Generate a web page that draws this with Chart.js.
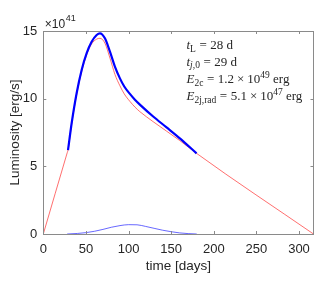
<!DOCTYPE html>
<html>
<head>
<meta charset="utf-8">
<script src="https://cdn.jsdelivr.net/npm/chart.js@4.4.0/dist/chart.umd.min.js"></script>
<style>
  html, body { margin: 0; padding: 0; background: #ffffff; }
  #lumChart { display: block; }
</style>
</head>
<body>
<canvas id="lumChart" width="334" height="284"></canvas>
<script>
// luminosity in units of 1e41 erg/s, time in days
var blueDays = [29, 33.3, 39.1, 45, 50.9, 56.7, 62.6, 66.5, 72.3, 78.2, 84, 89.9, 95, 101.6, 107.5, 113.3, 128.9, 144.6, 160.2, 179.8];
var blueLum = [6.2, 8.2, 10.4, 12.12, 13.36, 14.2, 14.7, 14.83, 14.46, 13.47, 12.37, 11.5, 10.9, 10.35, 9.92, 9.56, 8.68, 7.88, 7.07, 5.96];

var redDays = [0, 28, 29, 33.3, 39.1, 45, 50.9, 56.7, 62.6, 66.5, 72.3, 78.2, 84, 89.9, 95, 101.6, 107.5, 113.3, 128.9, 144.6, 160.2, 179.8, 317];
var redLum = [0, 5.99, 6.2, 8.15, 10.3, 12.0, 13.25, 14.05, 14.4, 14.46, 14.1, 13.0, 11.8, 10.95, 10.35, 9.8, 9.38, 9.04, 8.3, 7.6, 6.9, 5.96, 0];

var jetDays = [28, 40, 50, 60, 70, 80, 90, 100, 110, 120, 130, 140, 150, 160, 170, 180];
var jetLum = [0, 0.04, 0.1, 0.2, 0.34, 0.5, 0.62, 0.69, 0.68, 0.56, 0.42, 0.28, 0.17, 0.08, 0.03, 0];

var xTicks = [0, 50, 100, 150, 200, 250, 300];
var yTicks = [0, 5, 10, 15];

var textColor = '#262626';
var sansFont = '"Liberation Sans", Arial, sans-serif';
var serifFont = '"Liberation Serif", "Times New Roman", serif';

function toPoints(xs, ys) {
    var pts = [];
    for (var i = 0; i < xs.length; i++) {
        pts.push({ x: xs[i], y: ys[i] });
    }
    return pts;
}

// draw a run of text pieces: [text, style] with style i / r / sub / subi / sup / gap
function drawParts(ctx, x, y, parts) {
    var size = 13;
    parts.forEach(function (p) {
        var style = p[1];
        var dy = 0;
        if (style === 'gap') { x += p[0]; return; }
        if (style === 'i') ctx.font = 'italic ' + size + 'px ' + serifFont;
        else if (style === 'r') ctx.font = size + 'px ' + serifFont;
        else if (style === 'sub') { ctx.font = '9.5px ' + serifFont; dy = 2.5; }
        else if (style === 'subi') { ctx.font = 'italic 9.5px ' + serifFont; dy = 2.5; }
        else if (style === 'sup') { ctx.font = '9.5px ' + serifFont; dy = -5; }
        ctx.fillText(p[0], x, y + dy);
        x += ctx.measureText(p[0]).width;
    });
}

var boxPlugin = {
    id: 'boxPlugin',
    afterDraw: function (chart) {
        var ctx = chart.ctx;
        var a = chart.chartArea;
        var xs = chart.scales.x;
        var ys = chart.scales.y;
        ctx.save();
        ctx.strokeStyle = '#8a8a8a';
        ctx.lineWidth = 1;
        ctx.strokeRect(Math.round(a.left) + 0.5, Math.round(a.top) + 0.5,
            Math.round(a.right - a.left), Math.round(a.bottom - a.top));
        ctx.beginPath();
        xTicks.forEach(function (t) {
            var px = Math.round(xs.getPixelForValue(t)) + 0.5;
            ctx.moveTo(px, a.bottom);
            ctx.lineTo(px, a.bottom - 3);
            ctx.moveTo(px, a.top);
            ctx.lineTo(px, a.top + 3);
        });
        yTicks.forEach(function (t) {
            var py = Math.round(ys.getPixelForValue(t)) + 0.5;
            ctx.moveTo(a.left, py);
            ctx.lineTo(a.left + 3, py);
            ctx.moveTo(a.right, py);
            ctx.lineTo(a.right - 3, py);
        });
        ctx.stroke();

        // exponent label
        ctx.fillStyle = textColor;
        ctx.textBaseline = 'alphabetic';
        ctx.textAlign = 'left';
        ctx.font = '12px ' + sansFont;
        ctx.fillText('\u00d710', a.left + 1.5, 27.5);
        var w = ctx.measureText('\u00d710').width;
        ctx.font = '9px ' + sansFont;
        ctx.fillText('41', a.left + 1.5 + w + 0.5, 21);

        // parameter text
        var tx = 186.5;
        var eq = [[3.5, 'gap'], ['=', 'r'], [3.5, 'gap']];
        var times = [[3, 'gap'], ['\u00d7', 'r'], [3, 'gap']];
        drawParts(ctx, tx, 49, [['t', 'i'], ['L', 'sub']].concat(eq, [['28 d', 'r']]));
        drawParts(ctx, tx, 65.5, [['t', 'i'], ['j', 'subi'], [',0', 'sub']].concat(eq, [['29 d', 'r']]));
        drawParts(ctx, tx, 83, [['E', 'i'], ['2c', 'sub']].concat(eq, [['1.2', 'r']], times, [['10', 'r'], ['49', 'sup'], [' erg', 'r']]));
        drawParts(ctx, tx, 100, [['E', 'i'], ['2j,rad', 'sub']].concat(eq, [['5.1', 'r']], times, [['10', 'r'], ['47', 'sup'], [' erg', 'r']]));
        ctx.restore();
    }
};

var ctx = document.getElementById('lumChart').getContext('2d');
var lumChart = new Chart(ctx, {
    type: 'line',
    data: {
        datasets: [{
            label: 'total',
            data: toPoints(blueDays, blueLum),
            borderColor: '#0000ff',
            borderWidth: 2.2,
            pointRadius: 0,
            fill: false,
            cubicInterpolationMode: 'monotone'
        }, {
            label: 'jet',
            data: toPoints(jetDays, jetLum),
            borderColor: 'rgba(40, 40, 255, 0.7)',
            borderWidth: 1,
            pointRadius: 0,
            fill: false,
            cubicInterpolationMode: 'monotone'
        }, {
            label: 'model',
            data: toPoints(redDays, redLum),
            borderColor: 'rgba(255, 40, 40, 0.75)',
            borderWidth: 0.9,
            pointRadius: 0,
            fill: false,
            cubicInterpolationMode: 'monotone'
        }]
    },
    options: {
        responsive: false,
        animation: false,
        events: [],
        layout: { padding: { left: 0, top: 31, right: 20.5, bottom: 0 } },
        plugins: {
            legend: { display: false },
            tooltip: { enabled: false }
        },
        scales: {
            x: {
                type: 'linear',
                min: 0,
                max: 317,
                grid: { display: false, drawTicks: false },
                border: { display: false },
                ticks: {
                    stepSize: 50,
                    includeBounds: false,
                    maxRotation: 0,
                    padding: 8,
                    color: textColor,
                    font: { family: sansFont, size: 13 }
                },
                title: {
                    display: true,
                    text: 'time [days]',
                    color: textColor,
                    font: { family: sansFont, size: 13.5 },
                    padding: { top: 0, bottom: 10 }
                },
                afterFit: function (scale) { scale.height = 50; }
            },
            y: {
                min: 0,
                max: 15,
                grid: { display: false, drawTicks: false },
                border: { display: false },
                ticks: {
                    stepSize: 5,
                    padding: 6,
                    color: textColor,
                    font: { family: sansFont, size: 13 }
                },
                title: {
                    display: true,
                    text: 'Luminosity [erg/s]',
                    color: textColor,
                    font: { family: sansFont, size: 13.5 },
                    padding: { top: 7, bottom: 0 }
                },
                afterFit: function (scale) { scale.width = 43.3; }
            }
        }
    },
    plugins: [boxPlugin]
});
</script>
</body>
</html>
